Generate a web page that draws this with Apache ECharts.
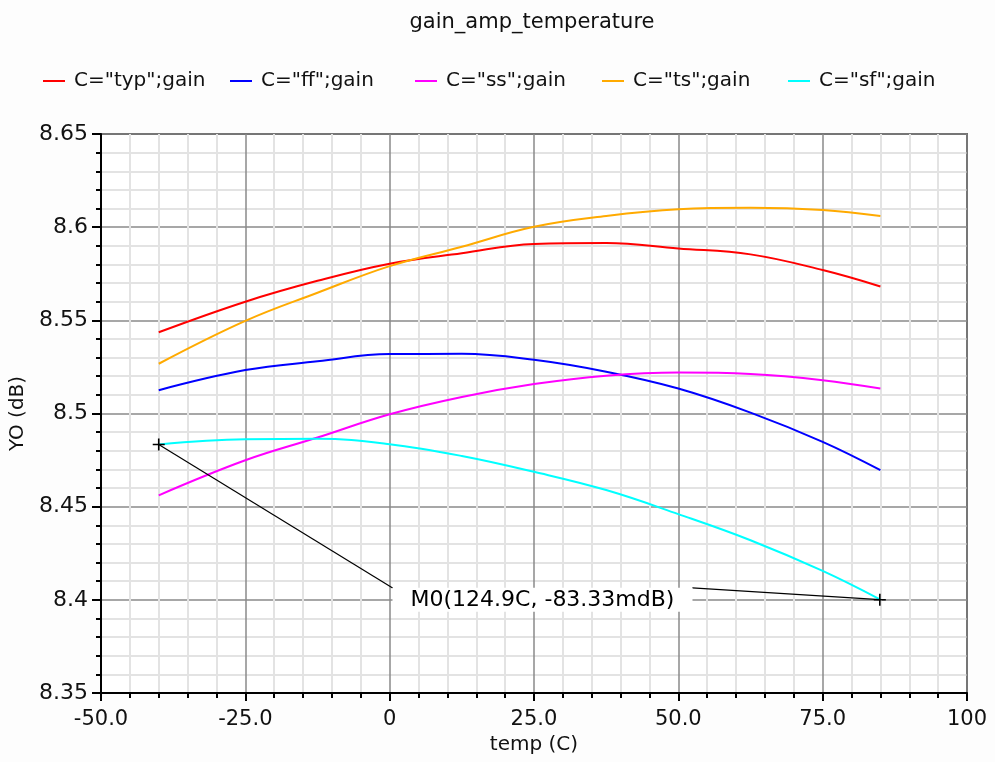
<!DOCTYPE html>
<html>
<head>
<meta charset="utf-8">
<title>gain_amp_temperature</title>
<script src="https://cdn.jsdelivr.net/npm/echarts@6/dist/echarts.min.js"></script>
<style>
  html, body { margin: 0; padding: 0; background: #fdfdfd; }
  #chart { width: 995px; height: 762px; }
</style>
</head>
<body>
<div id="chart"></div>
<script>
// Temperature sweep points (C)
const temps = [-40, -25, -12.5, 0, 12.5, 25, 37.5, 50, 62.5, 75, 85];

// Gain (dB) per process corner
const gainTyp = [8.5436, 8.5600, 8.5712, 8.5804, 8.5860, 8.5910, 8.5915, 8.5886, 8.5854, 8.5770, 8.5682];
const gainFf  = [8.5125, 8.5233, 8.5280, 8.5319, 8.5320, 8.5288, 8.5224, 8.5134, 8.5005, 8.4848, 8.4696];
const gainSs  = [8.4561, 8.4749, 8.4871, 8.4996, 8.5089, 8.5158, 8.5203, 8.5220, 8.5212, 8.5179, 8.5134];
const gainTs  = [8.5267, 8.5497, 8.5648, 8.5791, 8.5895, 8.6002, 8.6060, 8.6096, 8.6104, 8.6092, 8.6060];
const gainSf  = [8.4834, 8.4862, 8.4864, 8.4835, 8.4772, 8.4687, 8.4589, 8.4460, 8.4320, 8.4155, 8.4001];

const seriesNames = ['C="typ";gain', 'C="ff";gain', 'C="ss";gain', 'C="ts";gain', 'C="sf";gain'];

// Axis tick labels
const xTickLabels = ['-50.0', '-25.0', '0', '25.0', '50.0', '75.0', '100'];
const yTickLabels = ['8.35', '8.4', '8.45', '8.5', '8.55', '8.6', '8.65'];

// Delta marker M0 on the "sf" trace: reference point A and point B
const markerA = [-40, 8.48340];
const markerB = [84.9, 8.40007];

// ---- presentation ----
const FONT = 'DejaVu Sans';
const colors = ['#ff0000', '#0000ff', '#ff00ff', '#ffaa00', '#00ffff'];
const legendLeft = [38, 225, 410, 597, 783];

// where the marker readout box sits (data coordinates)
const readout = { cx: 26.47, cy: 8.40, left: 0.52, right: 52.42, top: 8.4064 };

const zip = (xs, ys) => xs.map((x, i) => [x, ys[i]]);
const curves = [gainTyp, gainFf, gainSs, gainTs, gainSf];

const deltaText = 'M0(' + (markerB[0] - markerA[0]).toFixed(1) + 'C, ' +
  ((markerB[1] - markerA[1]) * 1000).toFixed(2) + 'mdB)';

const plusIcon = 'path://M0,5.2 H12 V6.8 H0 Z M5.2,0 H6.8 V12 H5.2 Z';

const chart = echarts.init(document.getElementById('chart'), null, { renderer: 'canvas' });

const option = {
  animation: false,
  backgroundColor: '#fdfdfd',
  textStyle: { fontFamily: FONT, color: '#111' },
  title: {
    text: 'gain_amp_temperature',
    left: 527,
    textAlign: 'center',
    top: 7,
    textStyle: { fontFamily: FONT, fontSize: 21, fontWeight: 'normal', color: '#111' }
  },
  legend: seriesNames.map((n, i) => ({
    data: [n],
    left: legendLeft[i],
    top: 66,
    icon: 'rect',
    itemWidth: 22,
    itemHeight: 2,
    selectedMode: false,
    textStyle: { fontFamily: FONT, fontSize: 20, color: '#111', padding: [0, 0, 0, 4] }
  })),
  grid: {
    left: 101, right: 28, top: 134, bottom: 69,
    show: true, backgroundColor: '#fff', borderColor: '#000', borderWidth: 1.5
  },
  xAxis: {
    type: 'value',
    min: -50, max: 100, interval: 25,
    name: 'temp (C)',
    nameLocation: 'middle',
    nameGap: 40,
    nameTextStyle: { fontFamily: FONT, fontSize: 20, color: '#111' },
    axisLine: { show: true, onZero: false, lineStyle: { color: '#000', width: 2 } },
    axisTick: { show: true, length: 8, lineStyle: { color: '#000', width: 2 } },
    minorTick: { show: true, splitNumber: 5, length: 5, lineStyle: { color: '#000', width: 2 } },
    axisLabel: {
      margin: 16, fontFamily: FONT, fontSize: 21, color: '#111',
      formatter: v => xTickLabels[Math.round((v + 50) / 25)]
    },
    splitLine: { show: true, lineStyle: { color: '#8a8a8a', width: 1.5 } },
    minorSplitLine: { show: true, lineStyle: { color: '#e3e3e3', width: 2 } }
  },
  yAxis: {
    type: 'value',
    min: 8.35, max: 8.65, interval: 0.05,
    name: 'YO (dB)',
    nameLocation: 'middle',
    nameGap: 68,
    nameRotate: 90,
    nameTextStyle: { fontFamily: FONT, fontSize: 20, color: '#111' },
    axisLine: { show: true, onZero: false, lineStyle: { color: '#000', width: 2 } },
    axisTick: { show: true, length: 9, lineStyle: { color: '#000', width: 2 } },
    minorTick: { show: true, splitNumber: 5, length: 5, lineStyle: { color: '#000', width: 2 } },
    axisLabel: {
      margin: 13, fontFamily: FONT, fontSize: 22, color: '#111',
      formatter: v => yTickLabels[Math.round((v - 8.35) / 0.05)]
    },
    splitLine: { show: true, lineStyle: { color: '#8a8a8a', width: 1.5 } },
    minorSplitLine: { show: true, lineStyle: { color: '#e3e3e3', width: 2 } }
  },
  series: [
    ...curves.map((ys, i) => ({
      name: seriesNames[i],
      type: 'line',
      data: zip(temps, ys),
      smooth: 0.4,
      showSymbol: false,
      symbol: 'none',
      color: colors[i],
      lineStyle: { color: colors[i], width: 2 },
      z: 3
    })),
    // leader lines from the marker points to the readout box
    {
      type: 'line',
      data: [markerA, [readout.left, readout.top]],
      symbol: 'none',
      lineStyle: { color: '#000', width: 1.2 },
      silent: true, z: 4
    },
    {
      type: 'line',
      data: [[readout.right, readout.top], markerB],
      symbol: 'none',
      lineStyle: { color: '#000', width: 1.2 },
      silent: true, z: 4
    },
    // marker crosses
    {
      type: 'scatter',
      data: [markerA, markerB],
      symbol: plusIcon,
      symbolSize: 12,
      itemStyle: { color: '#000', opacity: 1 },
      silent: true, z: 6
    },
    // readout text
    {
      type: 'scatter',
      data: [[readout.cx, readout.cy]],
      symbolSize: 0,
      itemStyle: { opacity: 1 },
      silent: true, z: 5,
      label: {
        show: true,
        position: 'inside',
        formatter: deltaText,
        width: 300,
        height: 24,
        lineHeight: 24,
        align: 'center',
        verticalAlign: 'middle',
        backgroundColor: '#fff',
        fontFamily: FONT,
        fontSize: 22,
        color: '#000',
        opacity: 1
      }
    }
  ]
};

chart.setOption(option);
</script>
</body>
</html>
